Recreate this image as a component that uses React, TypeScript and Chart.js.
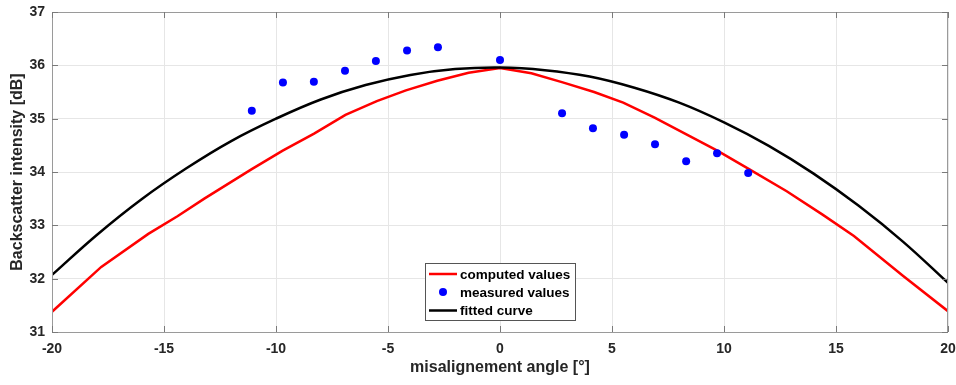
import React, { useEffect, useRef } from "react";
import { Chart, registerables } from "chart.js";

Chart.register(...registerables);

// computed values (red polyline)
const computedX = [-20, -17.8, -15.7, -14.4, -13.2, -11.1, -9.7, -8.3, -6.9, -5.5, -4.2, -2.8, -1.4, 0, 1.4, 2.8, 4.2, 5.5, 6.9, 8.3, 9.7, 11.1, 12.8, 14.4, 15.8, 18.0, 20];
const computedY = [31.38, 32.22, 32.84, 33.17, 33.5, 34.05, 34.4, 34.72, 35.07, 35.33, 35.53, 35.71, 35.86, 35.95, 35.85, 35.68, 35.5, 35.3, 35.02, 34.71, 34.4, 34.06, 33.64, 33.2, 32.8, 32.05, 31.39];

// measured values (blue dots)
const measuredX = [-11.08, -9.69, -8.31, -6.92, -5.54, -4.15, -2.77, 0, 2.77, 4.15, 5.54, 6.92, 8.31, 9.69, 11.08];
const measuredY = [35.15, 35.68, 35.69, 35.9, 36.08, 36.28, 36.34, 36.1, 35.1, 34.82, 34.7, 34.52, 34.2, 34.35, 33.98];

// fitted curve (black)
const fittedX = [-20, -18, -16, -14, -12, -10, -8, -6, -4, -2, 0, 2, 4, 6, 8, 10, 12, 14, 16, 18, 20];
const fittedY = [32.07, 32.82, 33.49, 34.07, 34.58, 35.0, 35.36, 35.63, 35.82, 35.93, 35.96, 35.91, 35.79, 35.58, 35.3, 34.93, 34.49, 33.97, 33.37, 32.69, 31.92];

const xTicksMin = -20;
const xTicksMax = 20;
const yTicksMin = 31;
const yTicksMax = 37;

const seriesLabels = ["computed values", "measured values", "fitted curve"];

const TEXT = "#262626";
const FONT = "'Liberation Sans', Arial, Helvetica, sans-serif";

const toPts = (xs: number[], ys: number[]) => xs.map((x, i) => ({ x, y: ys[i] }));

const boxPlugin = {
  id: "matlabBox",
  afterDraw(chart: any) {
    const { ctx, chartArea: a, scales } = chart;
    ctx.save();
    // frame
    ctx.strokeStyle = "#9a9a9a";
    ctx.lineWidth = 1;
    ctx.strokeRect(Math.round(a.left) + 0.5, Math.round(a.top) + 0.5, Math.round(a.right - a.left) - 1, Math.round(a.bottom - a.top));
    // inward ticks
    ctx.strokeStyle = "#7a7a7a";
    const L = 6;
    scales.x.ticks.forEach((t: any) => {
      const px = Math.round(scales.x.getPixelForValue(t.value)) + 0.5;
      ctx.beginPath();
      ctx.moveTo(px, a.bottom);
      ctx.lineTo(px, a.bottom - L);
      ctx.moveTo(px, a.top);
      ctx.lineTo(px, a.top + L);
      ctx.stroke();
    });
    scales.y.ticks.forEach((t: any) => {
      const py = Math.round(scales.y.getPixelForValue(t.value)) + 0.5;
      ctx.beginPath();
      ctx.moveTo(a.left, py);
      ctx.lineTo(a.left + L, py);
      ctx.moveTo(a.right, py);
      ctx.lineTo(a.right - L, py);
      ctx.stroke();
    });
    // legend
    const bx = 425.5, by = 263.5, bw = 150, bh = 57;
    ctx.fillStyle = "#ffffff";
    ctx.fillRect(bx, by, bw, bh);
    ctx.strokeStyle = "#555555";
    ctx.strokeRect(bx, by, bw, bh);
    const rows = [274, 292, 310.5];
    const ds = chart.data.datasets;
    ctx.font = `bold 13.5px ${FONT}`;
    ctx.textBaseline = "middle";
    ctx.textAlign = "left";
    rows.forEach((ry: number, i: number) => {
      const d = ds[i];
      if (d.showLine) {
        ctx.strokeStyle = d.borderColor;
        ctx.lineWidth = 2.5;
        ctx.beginPath();
        ctx.moveTo(429, ry);
        ctx.lineTo(457, ry);
        ctx.stroke();
      } else {
        ctx.fillStyle = d.backgroundColor;
        ctx.beginPath();
        ctx.arc(443, ry, 4, 0, Math.PI * 2);
        ctx.fill();
      }
      ctx.fillStyle = "#000000";
      ctx.fillText(seriesLabels[i], 460, ry + 1);
    });
    ctx.restore();
  },
};

export default function App() {
  const ref = useRef<HTMLCanvasElement | null>(null);
  useEffect(() => {
    if (!ref.current) return;
    const chart = new Chart(ref.current, {
      type: "scatter",
      data: {
        datasets: [
          {
            label: seriesLabels[0],
            data: toPts(computedX, computedY),
            showLine: true,
            borderColor: "#ff0000",
            backgroundColor: "#ff0000",
            borderWidth: 2.5,
            pointRadius: 0,
            tension: 0,
            order: 3,
          },
          {
            label: seriesLabels[1],
            data: toPts(measuredX, measuredY),
            showLine: false,
            borderColor: "#0000ff",
            backgroundColor: "#0000ff",
            pointRadius: 4,
            pointBorderWidth: 0,
            order: 2,
          },
          {
            label: seriesLabels[2],
            data: toPts(fittedX, fittedY),
            showLine: true,
            borderColor: "#000000",
            backgroundColor: "#000000",
            borderWidth: 2.5,
            pointRadius: 0,
            tension: 0.4,
            order: 1,
          },
        ],
      } as any,
      options: {
        animation: false,
        responsive: false,
        layout: { padding: { top: 12, right: 8, left: 0, bottom: 0 } },
        plugins: { legend: { display: false }, tooltip: { enabled: false } },
        scales: {
          x: {
            type: "linear",
            min: xTicksMin,
            max: xTicksMax,
            ticks: { stepSize: 5, color: TEXT, padding: 9, font: { family: FONT, size: 14, weight: "bold" } },
            grid: { color: "#e6e6e6", drawTicks: false },
            border: { display: false },
            title: {
              display: true,
              text: "misalignement angle [°]",
              color: TEXT,
              font: { family: FONT, size: 16, weight: "bold" },
              padding: { top: 0, bottom: 8 },
            },
            afterFit: (s: any) => {
              s.height = 53;
              s.paddingLeft = 0;
              s.paddingRight = 0;
            },
          },
          y: {
            type: "linear",
            min: yTicksMin,
            max: yTicksMax,
            ticks: { stepSize: 1, color: TEXT, padding: 7, font: { family: FONT, size: 14, weight: "bold" } },
            grid: { color: "#e6e6e6", drawTicks: false },
            border: { display: false },
            title: {
              display: true,
              text: "Backscatter intensity [dB]",
              color: TEXT,
              font: { family: FONT, size: 16, weight: "bold" },
              padding: { top: 8, bottom: 0 },
            },
            afterFit: (s: any) => {
              s.width = 52;
              s.paddingTop = 0;
              s.paddingBottom = 0;
            },
          },
        },
      } as any,
      plugins: [boxPlugin],
    });
    return () => chart.destroy();
  }, []);
  return (
    <div style={{ position: "absolute", left: 0, top: 0, width: 956, height: 385, background: "#fff" }}>
      <canvas ref={ref} width={956} height={385} style={{ display: "block" }} />
    </div>
  );
}
